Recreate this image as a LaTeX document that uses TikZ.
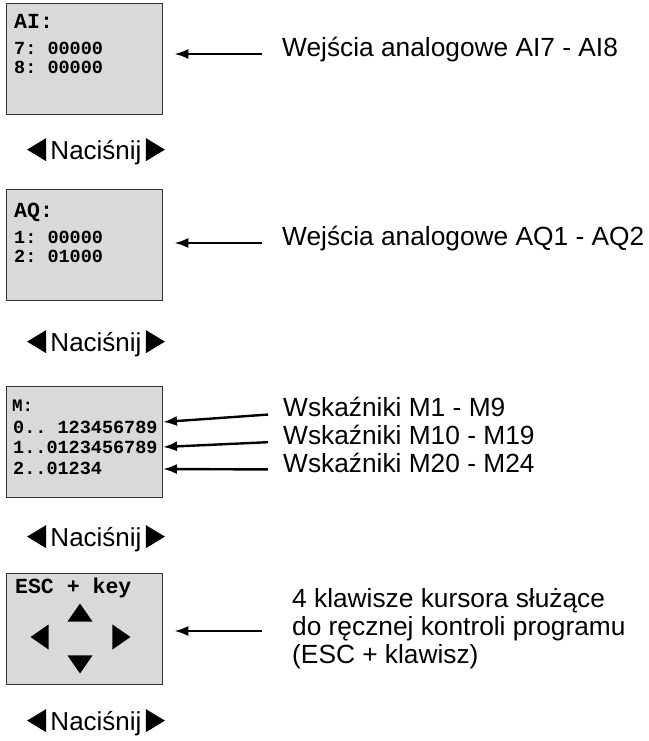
\documentclass[tikz,border=0pt]{standalone}
\usepackage{fontspec}
\setmainfont{Liberation Sans}
\setmonofont{Liberation Mono}
\usetikzlibrary{positioning,arrows.meta,shapes.geometric}

\begin{document}
\begin{tikzpicture}[
        x=1pt, y=-1pt,
        lcd/.style={rectangle, draw=black!80, fill=gray!30, line width=1.3pt, minimum width=156pt, minimum height=111pt, inner sep=0, anchor=north west},
        head/.style={anchor=base west, inner sep=0, font=\ttfamily\bfseries\fontsize{21.5}{24}\selectfont},
        row/.style={anchor=base west, inner sep=0, font=\ttfamily\bfseries\fontsize{18.5}{20}\selectfont},
        note/.style={anchor=mid west, inner sep=0, font=\fontsize{26.3}{28}\selectfont},
        press/.style={anchor=base, inner sep=0, font=\fontsize{26}{28}\selectfont},
        tri/.style={isosceles triangle, isosceles triangle stretches, fill=black, inner sep=0, minimum width=23pt, minimum height=19pt},
        keytri/.style={tri, minimum width=25pt, minimum height=18pt},
        ptr/.style={-{Latex[length=14pt,width=10pt]}, line width=2.4pt}
    ]
    \useasboundingbox (0,0) rectangle (648,741);

    % AI screen
    \node[lcd] (ai) at (6,3) {};
    \node[head] (aihead) at (14,29) {AI:};
    \node[row] (ai7) at (14,55) {7: 00000};
    \node[row] (ai8) at (14,74) {8: 00000};
    \node[note] (n1) at (282,54) {Wejścia analogowe AI7 - AI8};
    \draw[ptr, shorten <=20pt, shorten >=11pt] (n1.mid west) -- (ai.east |- n1.mid west);

    \node[press] (p1) at (96,159) {Naciśnij};
    \node[tri, shape border rotate=180, left=4pt of p1, yshift=2.5pt] (p1l) {};
    \node[tri, right=4pt of p1, yshift=2.5pt] (p1r) {};

    % AQ screen
    \node[lcd] (aq) at (6,189) {};
    \node[head] (aqhead) at (14,217) {AQ:};
    \node[row] (aq1) at (14,243) {1: 00000};
    \node[row] (aq2) at (14,262) {2: 01000};
    \node[note] (n2) at (282,243) {Wejścia analogowe AQ1 - AQ2};
    \draw[ptr, shorten <=20pt, shorten >=11pt] (n2.mid west) -- (aq.east |- n2.mid west);

    \node[press] (p2) at (96,351) {Naciśnij};
    \node[tri, shape border rotate=180, left=4pt of p2, yshift=2.5pt] (p2l) {};
    \node[tri, right=4pt of p2, yshift=2.5pt] (p2r) {};

    % M screen
    \node[lcd] (mk) at (6,386) {};
    \node[row, font=\ttfamily\bfseries\fontsize{17.5}{20}\selectfont] (mhead) at (12,411) {M:};
    \node[row] (m0) at (13,433) {0.. 123456789};
    \node[row] (m1) at (13,453) {1..0123456789};
    \node[row] (m2) at (13,474) {2..01234};
    \coordinate (t0) at (163,422);
    \coordinate (t1) at (163,447);
    \coordinate (t2) at (163,469);
    \node[note] (n3) at (283,413.5) {Wskaźniki M1 - M9};
    \node[note] (n4) at (283,441.5) {Wskaźniki M10 - M19};
    \node[note] (n5) at (283,469.5) {Wskaźniki M20 - M24};
    \draw[ptr, shorten <=15pt] (n3.mid west) -- (t0);
    \draw[ptr, shorten <=15pt] (n4.mid west) -- (t1);
    \draw[ptr, shorten <=15pt] (n5.mid west) -- (t2);

    \node[press] (p3) at (96,546) {Naciśnij};
    \node[tri, shape border rotate=180, left=4pt of p3, yshift=2.5pt] (p3l) {};
    \node[tri, right=4pt of p3, yshift=2.5pt] (p3r) {};

    % cursor keys screen
    \node[lcd] (esc) at (6,573) {};
    \node[head] (eschead) at (15,593) {ESC + key};
    \node[keytri, shape border rotate=90] (kup) at (80,615) {};
    \node[keytri, shape border rotate=270] (kdown) at (80,662) {};
    \node[keytri, shape border rotate=180] (kleft) at (42,637) {};
    \node[keytri] (kright) at (119,637) {};
    \node[note, anchor=north west, align=left] (n6) at (292,588) {4 klawisze kursora służące\\do ręcznej kontroli programu\\(ESC + klawisz)};
    \coordinate (e1) at (262,631);
    \draw[ptr, shorten >=11pt] (e1) -- (esc.east |- e1);

    \node[press] (p4) at (96,730) {Naciśnij};
    \node[tri, shape border rotate=180, left=4pt of p4, yshift=2.5pt] (p4l) {};
    \node[tri, right=4pt of p4, yshift=2.5pt] (p4r) {};
\end{tikzpicture}
\end{document}
